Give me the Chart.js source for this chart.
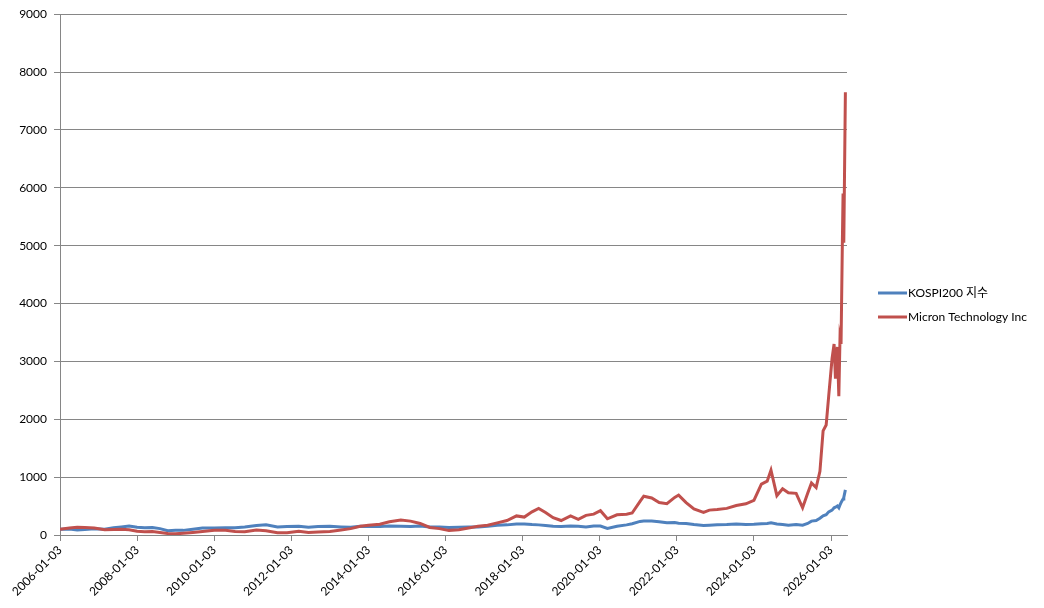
<!DOCTYPE html>
<html>
<head>
<meta charset="utf-8">
<script src="https://cdn.jsdelivr.net/npm/chart.js@4"></script>
<style>
  body { margin: 0; background: #fff; }
</style>
</head>
<body>
<canvas id="chart" width="1044" height="608"></canvas>
<script>
// dates of the sampled points
var dates = [
  "2006-01-03", "2006-04-03", "2006-06-15", "2006-08-25", "2006-11-24",
  "2007-03-02", "2007-05-25", "2007-08-07", "2007-10-19",
  "2008-01-03", "2008-03-14", "2008-05-27", "2008-08-07", "2008-10-20",
  "2009-01-02", "2009-03-16", "2009-06-15", "2009-09-14",
  "2010-01-04", "2010-04-20", "2010-07-20", "2010-10-19",
  "2011-02-07", "2011-05-09", "2011-08-25", "2011-11-24",
  "2012-03-14", "2012-06-14", "2012-09-13",
  "2013-01-03", "2013-04-19", "2013-07-19", "2013-10-18",
  "2014-01-03", "2014-04-21", "2014-07-21", "2014-11-06",
  "2015-02-06", "2015-05-08", "2015-08-07", "2015-11-06",
  "2016-02-05", "2016-05-09", "2016-08-08", "2016-11-07",
  "2017-02-06", "2017-05-08", "2017-08-08", "2017-11-06",
  "2018-01-19", "2018-04-02", "2018-06-04", "2018-08-08", "2018-10-19",
  "2019-01-03", "2019-04-02", "2019-06-14", "2019-08-26", "2019-11-07",
  "2020-01-10", "2020-03-16", "2020-06-15", "2020-09-14", "2020-11-06",
  "2021-01-20", "2021-02-24", "2021-05-10", "2021-07-20", "2021-10-01", "2021-12-14",
  "2022-01-20", "2022-04-01", "2022-06-14", "2022-09-13", "2022-11-07",
  "2023-01-20", "2023-04-21", "2023-07-20", "2023-10-19",
  "2024-01-03", "2024-03-14", "2024-05-08", "2024-06-13", "2024-08-08", "2024-10-01", "2024-11-25",
  "2025-02-07", "2025-04-09", "2025-05-27", "2025-07-02", "2025-08-15", "2025-09-20",
  "2025-10-20", "2025-11-18", "2025-12-12",
  "2026-01-13", "2026-02-01", "2026-02-14", "2026-03-04", "2026-03-18", "2026-03-29",
  "2026-04-08", "2026-04-20", "2026-04-27", "2026-05-04", "2026-05-19"
];

var kospi = [
  100, 105, 88, 95, 110,
  100, 125, 140, 155,
  135, 125, 130, 110, 75,
  80, 80, 100, 120,
  120, 125, 125, 140,
  165, 175, 140, 145,
  150, 135, 145,
  150, 140, 135, 150,
  145, 145, 155, 150,
  145, 155, 140, 140,
  130, 135, 140, 140,
  150, 170, 175, 190,
  190, 180, 175, 165, 150,
  145, 155, 150, 140, 155,
  155, 115, 150, 175, 195,
  235, 240, 240, 230, 210, 215,
  205, 200, 180, 165, 170,
  175, 180, 190, 180,
  185, 195, 200, 210, 190, 180, 170,
  180, 170, 200, 240, 250, 290,
  330, 350, 400,
  430, 470, 480, 500, 470, 520,
  560, 600, 620, 650, 780
];

var micron = [
  100, 120, 135, 130, 120,
  90, 95, 100, 90,
  65, 55, 60, 45, 25,
  20, 30, 45, 60,
  80, 80, 60, 55,
  85, 75, 40, 40,
  65, 45, 50,
  60, 85, 110, 150,
  170, 185, 230, 260,
  240, 200, 130, 110,
  80, 90, 120, 150,
  170, 210, 250, 330,
  310, 400, 460, 390, 300,
  250, 330, 270, 340, 360,
  420, 280, 350, 360, 380,
  580, 670, 640, 560, 540, 650,
  690, 560, 450, 390, 430,
  440, 460, 510, 540,
  600, 880, 930, 1120, 680, 800, 730,
  720, 470, 720, 900, 820, 1100,
  1800, 1900, 2400,
  3050, 3300, 2700, 3250, 2400, 3400,
  3300, 5000, 5900, 5050, 7650
];

var xTickLabels = [
  "2006-01-03", "2008-01-03", "2010-01-03", "2012-01-03", "2014-01-03", "2016-01-03",
  "2018-01-03", "2020-01-03", "2022-01-03", "2024-01-03", "2026-01-03"
];

var seriesNames = ["KOSPI200 지수", "Micron Technology Inc"];

function toYear(s) {
  var d = new Date(s + "T00:00:00Z");
  var y = d.getUTCFullYear();
  var a = Date.UTC(y, 0, 1), b = Date.UTC(y + 1, 0, 1);
  return y + (d.getTime() - a) / (b - a);
}

function points(values) {
  return values.map(function (v, i) { return { x: toYear(dates[i]), y: v }; });
}

var FONT = "Lato, 'Noto Sans CJK KR', sans-serif";
var GRID = "#868686";

// simple legend drawn next to the plot, like the Excel one
var sideLegend = {
  id: "sideLegend",
  afterDraw: function (chart) {
    var ctx = chart.ctx;
    ctx.save();
    ctx.font = "12px " + FONT;
    ctx.textBaseline = "middle";
    ctx.fillStyle = "#000";
    chart.data.datasets.forEach(function (ds, i) {
      var y = 293 + i * 24;
      ctx.strokeStyle = ds.borderColor;
      ctx.lineWidth = 3;
      ctx.beginPath();
      ctx.moveTo(878, y);
      ctx.lineTo(907, y);
      ctx.stroke();
      ctx.fillText(ds.label, 908, y);
    });
    ctx.restore();
  }
};

var ctx = document.getElementById("chart").getContext("2d");
var chart = new Chart(ctx, {
  type: "line",
  data: {
    datasets: [{
      label: seriesNames[0],
      data: points(kospi),
      borderColor: "#4F81BD",
      backgroundColor: "#4F81BD",
      borderWidth: 3,
      pointRadius: 0,
      order: 1
    }, {
      label: seriesNames[1],
      data: points(micron),
      borderColor: "#C0504D",
      backgroundColor: "#C0504D",
      borderWidth: 3,
      pointRadius: 0,
      order: 0
    }]
  },
  options: {
    responsive: false,
    animation: false,
    layout: { padding: { left: 0, top: 14, right: 197, bottom: 0 } },
    plugins: {
      legend: { display: false },
      tooltip: { enabled: false }
    },
    scales: {
      x: {
        type: "linear",
        min: toYear("2006-01-03"),
        max: 2026.42,
        afterFit: function (s) { s.height = 73; },
        afterBuildTicks: function (s) {
          s.ticks = xTickLabels.map(function (l) { return { value: toYear(l) }; });
        },
        grid: { drawOnChartArea: false, color: GRID, tickLength: 6 },
        border: { color: GRID },
        ticks: {
          autoSkip: false,
          minRotation: 45,
          maxRotation: 45,
          padding: 2,
          color: "#000",
          font: { family: FONT, size: 12 },
          callback: function (v, i) { return xTickLabels[i]; }
        }
      },
      y: {
        min: 0,
        max: 9000,
        afterFit: function (s) { s.width = 60; },
        grid: { color: GRID, tickLength: 6 },
        border: { color: GRID },
        ticks: {
          stepSize: 1000,
          padding: 7,
          color: "#000",
          font: { family: FONT, size: 12 },
          callback: function (v) { return String(v); }
        }
      }
    }
  },
  plugins: [sideLegend]
});
</script>
</body>
</html>
